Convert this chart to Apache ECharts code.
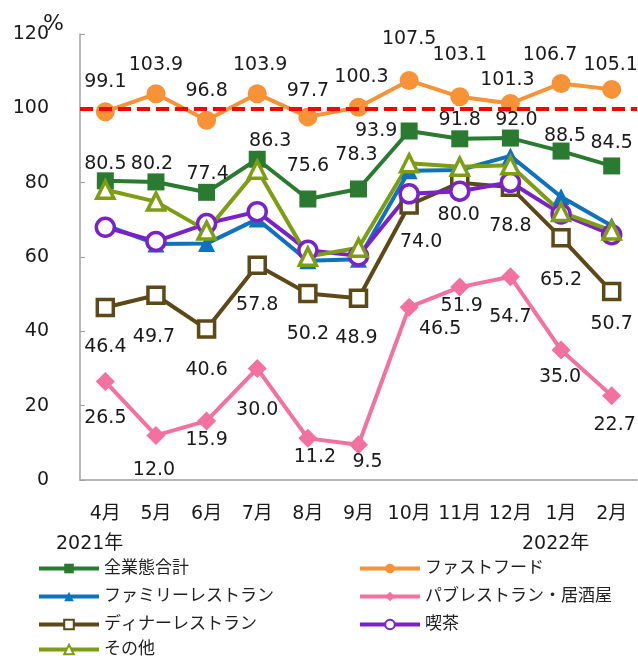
<!DOCTYPE html>
<html>
<head>
<meta charset="utf-8">
<script src="https://cdn.jsdelivr.net/npm/echarts@6/dist/echarts.min.js"></script>
<style>html,body{margin:0;padding:0;background:#fff}#c{width:638px;height:656px}</style>
</head>
<body>
<div id="c"></div>
<script>
var categories = ['4月','5月','6月','7月','8月','9月','10月','11月','12月','1月','2月'];
var total      = [80.5, 80.2, 77.4, 86.3, 75.6, 78.3, 93.9, 91.8, 92.0, 88.5, 84.5];
var fastFood   = [99.1, 103.9, 96.8, 103.9, 97.7, 100.3, 107.5, 103.1, 101.3, 106.7, 105.1];
var family     = [68.6, 63.5, 63.6, 70.2, 59.0, 59.4, 83.2, 83.4, 87.2, 76.2, 68.4];
var pub        = [26.5, 12.0, 15.9, 30.0, 11.2, 9.5, 46.5, 51.9, 54.7, 35.0, 22.7];
var dinner     = [46.4, 49.7, 40.6, 57.8, 50.2, 48.9, 74.0, 80.0, 78.8, 65.2, 50.7];
var cafe       = [68.0, 64.2, 69.0, 72.2, 61.8, 60.3, 77.0, 77.7, 80.1, 71.6, 66.0];
var other      = [78.1, 74.9, 67.1, 83.5, 60.1, 62.5, 85.2, 84.3, 84.7, 72.1, 67.1];
var yTicks = {min: 0, max: 120, interval: 20};
var baseline = 100;

var FONT = '"DejaVu Sans","Noto Sans CJK JP",sans-serif';

// label placement offsets (style only)
var offFF    = [[0,-30],[0,-29],[0,-29],[3,-29],[0,-26],[3,-30],[0,-41],[0,-42],[-3,-23],[-11,-28],[-1,-24]];
var offTotal = [[0,-17],[-4,-18],[1,-18],[13,-18],[0,-33],[-2,-34],[-33,0],[0,-19],[6,-18],[4,-15],[0,-23]];
var offDin   = [[0,40],[-2,42],[0,41],[0,40],[0,41],[-2,40],[12,37],[-1,32],[0,39],[0,42],[0,32]];
var offPub   = [[0,37],[-2,35],[0,19],[0,42],[7,19],[9,17],[31,22],[2,19],[0,40],[-1,27],[3,29]];

function withLabels(values, offs) {
  return values.map(function (v, i) {
    return {
      value: v,
      label: {
        show: true, position: 'inside', offset: offs[i],
        formatter: function (p) { return p.value.toFixed(1); },
        color: '#1a1a1a', fontSize: 19, fontFamily: FONT,
        textBorderWidth: 0
      }
    };
  });
}

function lineSeries(name, data, color, symbol, size, hollow) {
  return {
    name: name, type: 'line', data: data,
    symbol: symbol, symbolSize: size,
    lineStyle: {color: color, width: 4},
    itemStyle: hollow ? {color: '#fff', borderColor: color, borderWidth: 3.5} : {color: color},
    emphasis: {disabled: true},
    animation: false
  };
}

var series = [
  lineSeries('全業態合計', withLabels(total, offTotal), '#2b7a31', 'rect', 17, false),
  lineSeries('ファストフード', withLabels(fastFood, offFF), '#f79237', 'circle', 19, false),
  lineSeries('ファミリーレストラン', family, '#0f72bd', 'triangle', 17, false),
  lineSeries('パブレストラン・居酒屋', withLabels(pub, offPub), '#f2719e', 'diamond', 19, false),
  lineSeries('ディナーレストラン', withLabels(dinner, offDin), '#5c4918', 'rect', 16, true),
  lineSeries('喫茶', cafe, '#7a22c9', 'circle', 18, true),
  lineSeries('その他', other, '#7d9e12', 'triangle', 17, true)
];
series[0].markLine = {
  silent: true, symbol: ['none', 'none'], label: {show: false},
  lineStyle: {color: '#ff0000', width: 4, type: [13, 6]},
  data: [{yAxis: baseline}],
  animation: false
};

var legendText = {fontSize: 17, lineHeight: 16, color: '#222', fontFamily: FONT};
function legendBlock(names, left, top) {
  return {
    data: names, left: left, top: top,
    orient: 'vertical', padding: 0, itemWidth: 60, itemHeight: 12, itemGap: 11,
    lineStyle: {width: 4}, textStyle: legendText, selectedMode: false
  };
}

var option = {
  backgroundColor: '#fff',
  animation: false,
  grid: {left: 80, right: 1, top: 34, bottom: 176},
  xAxis: {
    type: 'category', data: categories, boundaryGap: true,
    axisLine: {lineStyle: {color: '#a0a0a0', width: 1.5}},
    axisTick: {show: false},
    axisLabel: {color: '#1a1a1a', fontSize: 19, fontFamily: FONT, margin: 25, interval: 0}
  },
  yAxis: {
    type: 'value', min: yTicks.min, max: yTicks.max, interval: yTicks.interval,
    axisLine: {show: true, lineStyle: {color: '#a0a0a0', width: 1.5}},
    axisTick: {show: true, inside: true, length: 5, lineStyle: {color: '#a0a0a0'}},
    splitLine: {show: false},
    axisLabel: {color: '#1a1a1a', fontSize: 19, fontFamily: FONT, margin: 31}
  },
  legend: [
    legendBlock(['全業態合計','ファミリーレストラン','ディナーレストラン'], 37, 560),
    legendBlock(['その他'], 37, 641),
    legendBlock(['ファストフード','パブレストラン・居酒屋','喫茶'], 358, 560)
  ],
  graphic: [
    {type: 'text', left: 43, top: 13, style: {text: '%', fontSize: 22, fill: '#1a1a1a', fontFamily: FONT}},
    {type: 'text', left: 56, top: 535, style: {text: '2021年', fontSize: 19, fill: '#1a1a1a', fontFamily: FONT}},
    {type: 'text', left: 522, top: 535, style: {text: '2022年', fontSize: 19, fill: '#1a1a1a', fontFamily: FONT}}
  ],
  series: series
};

var chart = echarts.init(document.getElementById('c'), null, {renderer: 'canvas'});
chart.setOption(option);
</script>
</body>
</html>
